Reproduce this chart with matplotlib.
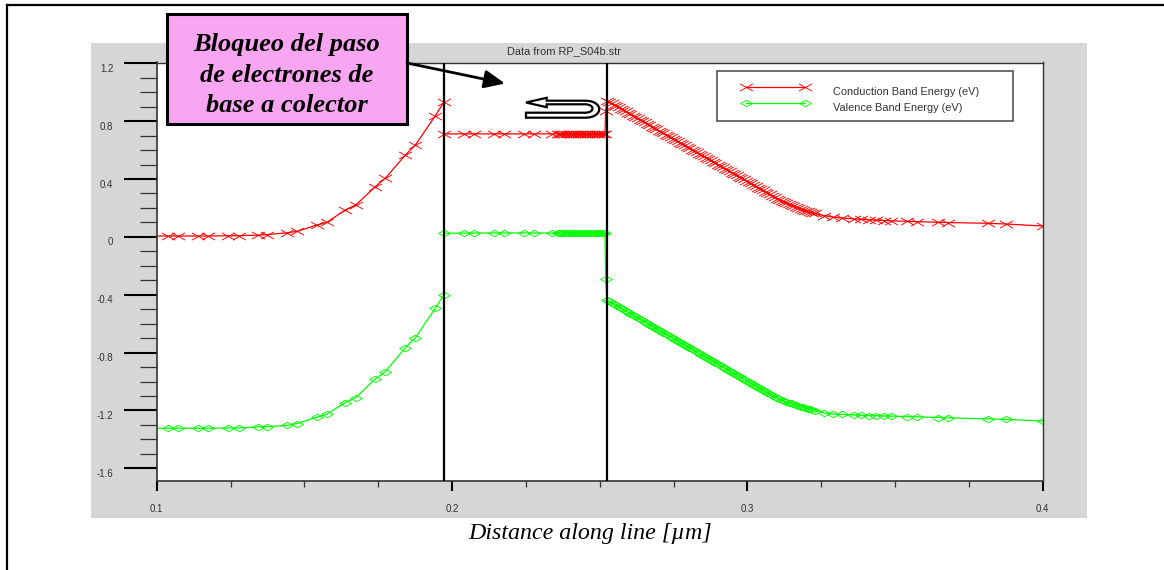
import matplotlib
matplotlib.use("Agg")
import matplotlib.pyplot as plt
from matplotlib.path import Path
from matplotlib.patches import Rectangle, PathPatch, FancyArrowPatch
from matplotlib.lines import Line2D
from matplotlib.ticker import FixedLocator, MultipleLocator
from matplotlib.legend_handler import HandlerLine2D
from matplotlib.transforms import ScaledTranslation

# ---------------- data ----------------
title_text = "Data from RP_S04b.str"
xlabel_text = "Distance along line [µm]"
series_labels = ["Conduction Band Energy (eV)", "Valence Band Energy (eV)"]
note_text = "Bloqueo del paso\nde electrones de\nbase a colector"

x_ticks = [0.1, 0.2, 0.3, 0.4]
x_tick_labels = ["0.1", "0.2", "0.3", "0.4"]
y_ticks = [1.2, 0.8, 0.4, 0.0, -0.4, -0.8, -1.2, -1.6]
y_tick_labels = ["1.2", "0.8", "0.4", "0", "-0.4", "-0.8", "-1.2", "-1.6"]

interfaces = [0.1972, 0.2524]

x_emitter = [0.0970, 0.1039, 0.1073, 0.1141, 0.1175, 0.1243, 0.1277, 0.1342, 0.1373,
             0.1441, 0.1475, 0.1542, 0.1576, 0.1638, 0.1674, 0.1740, 0.1774, 0.1842,
             0.1876, 0.1943, 0.1972]
ec_emitter = [0.006, 0.006, 0.006, 0.006, 0.006, 0.007, 0.008, 0.012, 0.016,
              0.028, 0.038, 0.082, 0.100, 0.186, 0.220, 0.347, 0.405, 0.566,
              0.635, 0.836, 0.930]
ev_emitter = [-1.323, -1.323, -1.323, -1.323, -1.323, -1.322, -1.321, -1.314, -1.312,
              -1.303, -1.291, -1.247, -1.226, -1.146, -1.112, -0.982, -0.932, -0.766,
              -0.697, -0.494, -0.402]

x_base = [0.1972, 0.2039, 0.2073, 0.2141, 0.2175, 0.2243, 0.2277, 0.2340, 0.2358,
          0.2366, 0.2374, 0.2382, 0.2390, 0.2398, 0.2406, 0.2414, 0.2422, 0.2430,
          0.2438, 0.2446, 0.2454, 0.2462, 0.2470, 0.2478, 0.2486, 0.2494, 0.2502,
          0.2510, 0.2518, 0.2520]
ec_base = [0.712, 0.712, 0.712, 0.712, 0.712, 0.712, 0.712, 0.712, 0.712,
           0.712, 0.712, 0.712, 0.712, 0.712, 0.712, 0.712, 0.712, 0.712,
           0.712, 0.712, 0.712, 0.712, 0.712, 0.712, 0.712, 0.712, 0.712,
           0.712, 0.712, 0.870]
ev_base = [0.025, 0.026, 0.026, 0.027, 0.027, 0.027, 0.027, 0.026, 0.025,
           0.025, 0.025, 0.025, 0.025, 0.025, 0.025, 0.025, 0.025, 0.025,
           0.025, 0.025, 0.025, 0.025, 0.025, 0.025, 0.025, 0.025, 0.025,
           0.025, 0.025, -0.293]

x_collector = [0.2524, 0.2532, 0.2540, 0.2548, 0.2556, 0.2564, 0.2572, 0.2580, 0.2588,
               0.2596, 0.2604, 0.2612, 0.2620, 0.2628, 0.2636, 0.2644, 0.2652, 0.2660,
               0.2668, 0.2676, 0.2684, 0.2692, 0.2700, 0.2708, 0.2716, 0.2724, 0.2732,
               0.2740, 0.2748, 0.2756, 0.2764, 0.2772, 0.2780, 0.2788, 0.2796, 0.2804,
               0.2812, 0.2820, 0.2828, 0.2836, 0.2844, 0.2852, 0.2860, 0.2868, 0.2876,
               0.2884, 0.2892, 0.2900, 0.2908, 0.2916, 0.2924, 0.2932, 0.2940, 0.2948,
               0.2956, 0.2964, 0.2972, 0.2980, 0.2988, 0.2996, 0.3004, 0.3012, 0.3020,
               0.3028, 0.3036, 0.3044, 0.3052, 0.3060, 0.3068, 0.3076, 0.3084, 0.3092,
               0.3100, 0.3108, 0.3116, 0.3124, 0.3132, 0.3140, 0.3148, 0.3156, 0.3164,
               0.3172, 0.3180, 0.3188, 0.3196, 0.3204, 0.3212, 0.3220, 0.3228,
               0.3260, 0.3290, 0.3322, 0.3361, 0.3384, 0.3412, 0.3435, 0.3463, 0.3486,
               0.3542, 0.3576, 0.3644, 0.3678, 0.3814, 0.3875, 0.4000]
ec_collector = [0.942, 0.933, 0.923, 0.914, 0.904, 0.895, 0.886, 0.876, 0.867,
                0.857, 0.848, 0.839, 0.829, 0.820, 0.810, 0.801, 0.792, 0.782,
                0.773, 0.763, 0.754, 0.745, 0.735, 0.726, 0.716, 0.707, 0.698,
                0.688, 0.679, 0.669, 0.660, 0.651, 0.641, 0.632, 0.622, 0.613,
                0.604, 0.594, 0.585, 0.575, 0.566, 0.557, 0.547, 0.538, 0.528,
                0.519, 0.510, 0.500, 0.491, 0.481, 0.472, 0.463, 0.453, 0.444,
                0.434, 0.425, 0.416, 0.406, 0.397, 0.387, 0.378, 0.369, 0.359,
                0.350, 0.340, 0.331, 0.322, 0.312, 0.303, 0.293, 0.284, 0.275,
                0.265, 0.257, 0.250, 0.243, 0.235, 0.228, 0.221, 0.214, 0.207,
                0.200, 0.194, 0.188, 0.182, 0.176, 0.171, 0.166, 0.162,
                0.147, 0.137, 0.130, 0.124, 0.121, 0.118, 0.116, 0.113, 0.111,
                0.107, 0.105, 0.101, 0.099, 0.094, 0.089, 0.075]
ev_collector = [-0.436, -0.445, -0.455, -0.464, -0.474, -0.483, -0.493, -0.502, -0.512,
                -0.521, -0.530, -0.540, -0.549, -0.559, -0.568, -0.578, -0.587, -0.596,
                -0.606, -0.615, -0.625, -0.634, -0.644, -0.653, -0.663, -0.672, -0.681,
                -0.691, -0.700, -0.710, -0.719, -0.729, -0.738, -0.748, -0.757, -0.766,
                -0.776, -0.785, -0.795, -0.804, -0.814, -0.823, -0.832, -0.842, -0.851,
                -0.861, -0.870, -0.880, -0.889, -0.899, -0.908, -0.917, -0.927, -0.936,
                -0.946, -0.955, -0.965, -0.974, -0.983, -0.993, -1.002, -1.012, -1.021,
                -1.031, -1.040, -1.050, -1.059, -1.068, -1.078, -1.087, -1.096, -1.105,
                -1.113, -1.121, -1.128, -1.135, -1.141, -1.147, -1.152, -1.158, -1.163,
                -1.168, -1.173, -1.178, -1.183, -1.188, -1.193, -1.197, -1.202,
                -1.218, -1.225, -1.228, -1.231, -1.233, -1.235, -1.236, -1.238, -1.239,
                -1.242, -1.244, -1.249, -1.251, -1.258, -1.262, -1.273]

# ---------------- figure ----------------
W, H = 1164, 570
fig = plt.figure(figsize=(W / 100, H / 100), dpi=100)


def fx(px):
    return px / W


def fy(py):
    return 1 - py / H


# outer frame (top and left edges)
fig.add_artist(Line2D([fx(7.3), fx(1164)], [fy(5), fy(5)], transform=fig.transFigure,
                      color="black", lw=1.6, zorder=1))
fig.add_artist(Line2D([fx(7.3), fx(7.3)], [fy(5), fy(570)], transform=fig.transFigure,
                      color="black", lw=1.6, zorder=1))

# gray plot panel
fig.add_artist(Rectangle((fx(91), fy(517.7)), fx(1087) - fx(91), fy(42.7) - fy(517.7),
                         transform=fig.transFigure, facecolor="#d6d6d6",
                         edgecolor="none", zorder=-1))

ax = fig.add_axes([fx(156.7), fy(481), fx(1042.7) - fx(156.7), fy(62.5) - fy(481)])
ax.set_facecolor("white")

xmark = Path([(-1, -0.55), (1, 0.55), (-1, 0.55), (1, -0.55)],
             [Path.MOVETO, Path.LINETO, Path.MOVETO, Path.LINETO])
dmark = Path([(-1, 0), (0, 0.55), (1, 0), (0, -0.55), (-1, 0)],
             [Path.MOVETO, Path.LINETO, Path.LINETO, Path.LINETO, Path.CLOSEPOLY])

x_all = x_emitter + x_base + x_collector
ec_all = ec_emitter + ec_base + ec_collector
ev_all = ev_emitter + ev_base + ev_collector

ax.plot(x_all, ec_all, color="#ff0000", lw=0.9, marker=xmark, ms=9.4, mew=0.65,
        mfc="none", label=series_labels[0], zorder=2)
ax.plot(x_all, ev_all, color="#00ff00", lw=0.9, marker=dmark, ms=8.5, mew=0.65,
        mfc="none", label=series_labels[1], zorder=2)

for xi in interfaces:
    ax.axvline(xi, color="black", lw=1.6, zorder=3)

ax.set_xlim(0.1, 0.4)
ax.set_ylim(-1.6878, 1.2055)
ax.xaxis.set_major_locator(FixedLocator(x_ticks))
ax.set_xticklabels(x_tick_labels)
ax.yaxis.set_major_locator(FixedLocator(y_ticks))
ax.set_yticklabels(y_tick_labels)
ax.xaxis.set_minor_locator(MultipleLocator(0.025))
ax.yaxis.set_minor_locator(MultipleLocator(0.1))

ax.tick_params(axis="y", which="major", direction="out", length=23.8, width=1.5,
               pad=7.5, labelsize=7.0, labelcolor="#333333", color="black")
ax.tick_params(axis="y", which="minor", direction="out", length=12.2, width=0.9,
               color="#333333")
ax.tick_params(axis="x", which="major", direction="out", length=7.2, width=1.5,
               pad=9.0, labelsize=7.0, labelcolor="#333333", color="black")
ax.tick_params(axis="x", which="minor", direction="out", length=4.3, width=0.9,
               color="#333333")
ydown = ScaledTranslation(0, -4.5 / 100, fig.dpi_scale_trans)
for lab in ax.get_xticklabels() + ax.get_yticklabels():
    lab.set_family("Liberation Sans")
for lab in ax.get_yticklabels():
    lab.set_transform(lab.get_transform() + ydown)

for side, sp in ax.spines.items():
    sp.set_color("#333333")
    sp.set_linewidth(1.2 if side in ("left", "bottom") else 1.0)

ax.set_title(title_text, x=(564 - 156.7) / 886, y=(481 - 50.7) / 418.5, pad=0,
             va="center", fontsize=7.9, family="Liberation Sans", color="#333333")

ax.set_xlabel(xlabel_text, family="Liberation Serif", style="italic", fontsize=17.3,
              color="black")
ax.xaxis.set_label_coords((590 - 156.7) / 886, (481 - 533) / 418.5)
ax.xaxis.label.set_va("center")


class ShiftedHandler(HandlerLine2D):
    def __init__(self, shift, **kw):
        super().__init__(**kw)
        self._shift = shift

    def get_xdata(self, legend, xdescent, ydescent, width, height, fontsize):
        xd, xm = super().get_xdata(legend, xdescent, ydescent, width, height, fontsize)
        return xd + self._shift, xm + self._shift


lines = ax.get_lines()[:2]
leg = ax.legend(handles=lines, labels=series_labels, loc="upper left",
                bbox_to_anchor=(fx(716.7), fy(120.7), fx(1013.3) - fx(716.7),
                                fy(70.7) - fy(120.7)),
                bbox_transform=fig.transFigure, mode="expand", borderaxespad=0,
                numpoints=2, handlelength=5.95, handletextpad=3.57, fontsize=7.9,
                borderpad=1.1, labelspacing=0.55, fancybox=False, framealpha=1,
                edgecolor="#555555",
                handler_map={l: ShiftedHandler(10.0) for l in lines},
                prop={"family": "Liberation Sans", "size": 7.9})
leg.get_frame().set_linewidth(1.2)
for t in leg.get_texts():
    t.set_color("#333333")
    t.set_y(-4.0)

# annotation box
fig.add_artist(Rectangle((fx(167.3), fy(124.3)), fx(406.7) - fx(167.3), fy(14) - fy(124.3),
                         transform=fig.transFigure, facecolor="#f8a6f1",
                         edgecolor="black", lw=2.2, zorder=5))
fig.text(fx(287), fy(75), note_text, ha="center", va="center", fontsize=19,
         fontweight="bold", fontstyle="italic", family="Liberation Serif",
         linespacing=1.4, zorder=6)

fig.add_artist(FancyArrowPatch((fx(407), fy(63)), (fx(505), fy(83.5)),
                               transform=fig.transFigure,
                               arrowstyle="-|>,head_length=1.25,head_width=0.55",
                               mutation_scale=10, lw=2, color="black",
                               shrinkA=0, shrinkB=0, zorder=6))

# U-turn arrow
P = [(526, 102.5), (546.7, 97.8), (546.7, 100.7), (585, 100.7),
     (604, 100.7), (604, 117.7), (585, 117.7),
     (526, 117.7), (526, 112.7), (585, 112.7),
     (595, 112.7), (595, 104.3), (585, 104.3),
     (546.7, 104.3), (546.7, 107.2), (526, 102.5)]
C = [Path.MOVETO, Path.LINETO, Path.LINETO, Path.LINETO,
     Path.CURVE4, Path.CURVE4, Path.CURVE4,
     Path.LINETO, Path.LINETO, Path.LINETO,
     Path.CURVE4, Path.CURVE4, Path.CURVE4,
     Path.LINETO, Path.LINETO, Path.CLOSEPOLY]
upath = Path([(fx(a), fy(b)) for a, b in P], C)
fig.add_artist(PathPatch(upath, transform=fig.transFigure, facecolor="white",
                         edgecolor="black", lw=1.6, zorder=6))

fig.savefig("out.png", dpi=100)
